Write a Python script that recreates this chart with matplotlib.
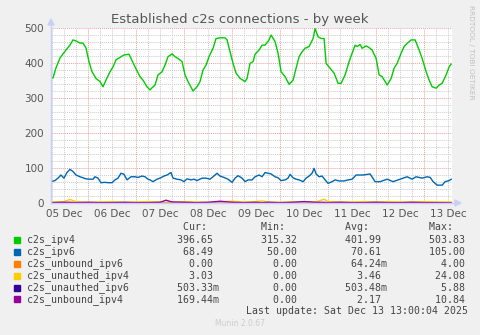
import matplotlib
matplotlib.use("Agg")
import matplotlib.pyplot as plt
from matplotlib.patches import Rectangle, Polygon

# hours since 05 Dec 00:00
ipv4_t = [5.5, 6.5, 8, 10, 11.5, 13, 15, 16.5, 18, 20, 21.5, 23, 24.5, 26, 28, 30, 31.5, 33, 35, 36.5,
          38, 40, 42, 44.5, 45.5, 47.5, 50, 51.5, 53.5, 55, 56, 57.5, 59, 61, 62.5, 64, 66, 67.5, 69, 71,
          72.5, 74, 76.5, 78.5, 80, 81.5, 83, 84.5, 86.5, 88, 90, 92.5, 93.5, 95, 96.5, 98, 100, 102.5, 103.5, 105,
          106.5, 107.5, 109.5, 111, 112.5, 114.5, 115.5, 117.5, 119, 120.5, 122.5, 124.5, 126.5, 128, 129.5, 131, 132.5, 134.5, 136.5, 137.5,
          139, 140.5, 142, 143, 145, 147, 149, 150.5, 152.5, 154.5, 156, 157.5, 158.5, 160, 161, 163, 164.5, 166, 168, 169.5,
          171, 172.5, 173.5, 175.5, 177, 178.5, 180.5, 182, 183.5, 185.5, 187.5, 189.5, 191, 193, 194.5, 196, 198, 199.5,
          201, 203, 204.5, 205.5]
ipv4_v = [357, 357, 386, 414, 426, 437, 451, 466, 463, 457, 457, 443, 404, 375, 356, 347, 332, 351, 375, 389,
          409, 416, 423, 425, 413, 389, 361, 351, 332, 323, 329, 337, 366, 375, 394, 418, 426, 418, 413, 404,
          366, 347, 320, 332, 347, 380, 394, 418, 442, 470, 472, 472, 466, 432, 399, 371, 356, 347, 356, 399,
          404, 425, 437, 451, 451, 466, 480, 461, 428, 375, 361, 339, 351, 385, 418, 432, 442, 447, 470, 498,
          475, 470, 470, 399, 385, 371, 342, 342, 366, 404, 428, 451, 447, 453, 442, 449, 444, 437, 413, 366,
          361, 347, 337, 356, 385, 399, 428, 447, 456, 466, 466, 437, 413, 375, 351, 332, 328, 337,
          342, 366, 389, 397]

ipv6_t = [5.5, 7.5, 9, 10.5, 12, 13.5, 15, 16.5, 18, 20, 21.5, 23, 25, 26.5, 27.5, 29, 30.5, 32.5, 34, 36,
          37.5, 39, 40.5, 42, 43.5, 45.5, 47.5, 49, 51, 52.5, 54, 55, 56.5, 58.5, 60, 62, 63.5, 65.5, 66.5, 68.5,
          70.5, 72, 73.5, 75.5, 77, 78.5, 81, 83, 85, 86.5, 88.5, 90, 92, 94, 96, 97.5, 99, 101, 102.5, 104,
          106, 107.5, 109.5, 111, 112.5, 114, 115.5, 117.5, 119, 120.5, 122.5, 124, 125, 126.5, 128, 129.5, 131.5, 133, 134.5, 136,
          137, 138, 139.5, 141, 142.5, 144, 146, 147.5, 149.5, 152, 154, 156, 158, 161.5, 165, 167.5, 170, 173.5,
          176.5, 180, 183.5, 186, 188, 191, 193.5, 195, 196.5, 198.5, 201, 202.5, 204.5, 205.5]
ipv6_v = [61, 64, 71, 80, 71, 87, 96, 90, 80, 75, 72, 69, 68, 68, 75, 71, 58, 59, 58, 58,
          66, 71, 85, 82, 66, 75, 75, 73, 77, 75, 68, 66, 61, 68, 71, 77, 80, 87, 71, 68,
          66, 61, 69, 66, 68, 64, 71, 71, 68, 75, 85, 77, 73, 68, 59, 71, 78, 71, 61, 66,
          66, 75, 80, 75, 87, 85, 83, 75, 72, 64, 66, 71, 82, 72, 68, 66, 61, 71, 77, 85,
          99, 83, 75, 77, 66, 56, 61, 66, 63, 63, 66, 68, 80, 80, 83, 61, 61, 68,
          61, 68, 75, 68, 75, 71, 75, 73, 61, 51, 51, 61, 64, 68]

small_t = [5.5, 12, 15, 18, 24, 30, 36, 42, 48, 54, 60, 63, 66, 72, 78, 84, 90, 96, 102, 108,
           111, 114, 120, 126, 132, 138, 142, 144, 150, 156, 162, 168, 174, 180, 186, 192, 198, 205.5]
unauthed_ipv4 = [3, 4, 10, 4, 2, 3, 4, 2, 3, 4, 3, 2, 3, 4, 3, 2, 4, 5, 3, 4,
                 6, 3, 2, 3, 4, 3, 11, 4, 3, 3, 4, 3, 4, 3, 3, 4, 3, 3]
unbound_ipv4 = [1, 2, 2, 1, 2, 1, 1, 2, 1, 1, 2, 8, 3, 2, 1, 2, 5, 2, 1, 2,
                1, 2, 1, 2, 4, 2, 2, 1, 2, 1, 1, 2, 1, 1, 2, 1, 1, 0.2]
unauthed_ipv6 = [0.5] * len(small_t)
unbound_ipv6 = [0] * len(small_t)

names = ["c2s_ipv4", "c2s_ipv6", "c2s_unbound_ipv6", "c2s_unauthed_ipv4", "c2s_unauthed_ipv6", "c2s_unbound_ipv4"]
colors = ["#00cc00", "#0066b3", "#ff8000", "#ffcc00", "#330099", "#990099"]
cur = [396.65, 68.49, 0.0, 3.03, 0.50333, 0.16944]
mins = [315.32, 50.00, 0.0, 0.0, 0.0, 0.0]
avgs = [401.99, 70.61, 0.06424, 3.46, 0.50348, 2.17]
maxs = [503.83, 105.00, 4.00, 24.08, 5.88, 10.84]
day_labels = ["05 Dec", "06 Dec", "07 Dec", "08 Dec", "09 Dec", "10 Dec", "11 Dec", "12 Dec", "13 Dec"]

W, H = 481, 335
def fx(px):
    return px / W
def fy(py):
    return 1 - py / H

fig = plt.figure(figsize=(4.81, 3.35), dpi=100, facecolor="#f0f0f0")
ax = fig.add_axes([fx(51), fy(203), fx(452) - fx(51), fy(28) - fy(203)])
ax.set_facecolor("white")

series = [(ipv4_t, ipv4_v), (ipv6_t, ipv6_v), (small_t, unbound_ipv6), (small_t, unauthed_ipv4),
          (small_t, unauthed_ipv6), (small_t, unbound_ipv4)]
for (t, v), c in zip(series, colors):
    ax.plot([h / 24 for h in t], v, color=c, lw=1.0, zorder=3)

ax.set_xlim(0.23, 8.58)
ax.set_ylim(0, 500)

# grid
for k in range(1, 35):
    d = k * 0.25
    if 0.23 < d < 8.58:
        if k % 4 == 0:
            ax.axvline(d, color="#f0a0a0", lw=0.7, ls=(0, (1, 1)), zorder=1)
        else:
            ax.axvline(d, color="#cccccc", lw=0.7, ls=(0, (1, 1)), zorder=1)
for y in range(20, 501, 20):
    if y % 100 == 0:
        ax.axhline(y, color="#f0a0a0", lw=0.7, ls=(0, (1, 1)), zorder=1)
    else:
        ax.axhline(y, color="#cccccc", lw=0.7, ls=(0, (1, 1)), zorder=1)

ax.set_xticks([i + 0.5 for i in range(len(day_labels))])
ax.set_xticklabels(day_labels)
ax.set_yticks(range(0, 501, 100))
ax.tick_params(length=0, labelsize=7.5, colors="#555555")
ax.tick_params(axis="x", pad=4)
ax.tick_params(axis="y", pad=5)
for s in ["top", "right"]:
    ax.spines[s].set_visible(False)
for s in ["left", "bottom"]:
    ax.spines[s].set_color("#c8d0f8")
    ax.spines[s].set_zorder(4)

# axis arrows
axc = "#c8d0f8"
fig.add_artist(plt.Line2D([fx(51), fx(51)], [fy(203), fy(22)], color=axc, lw=1))
fig.add_artist(plt.Line2D([fx(51), fx(458)], [fy(203), fy(203)], color=axc, lw=1))
fig.add_artist(Polygon([[fx(48), fy(25)], [fx(54), fy(25)], [fx(51), fy(19)]], closed=True, color=axc))
fig.add_artist(Polygon([[fx(455), fy(200)], [fx(455), fy(206)], [fx(461), fy(203)]], closed=True, color=axc))

fig.text(fx(240), fy(19), "Established c2s connections - by week", ha="center", va="center",
         fontsize=9.5, color="#555555")
fig.text(fx(471), fy(52), "RRDTOOL / TOBI OETIKER", rotation=-90, ha="center", va="center",
         fontsize=5.3, color="#c0c0c0")

# legend
def fmt(v):
    if v != 0 and abs(v) < 1:
        return "%6.2fm" % (v * 1000)
    return "%6.2f " % v

mono = dict(family="DejaVu Sans Mono", fontsize=7.08, color="#444444", va="center", ha="left")
x0 = 26.7
fig.text(fx(x0), fy(227.3), " " * 26 + "Cur:" + " " * 9 + "Min:" + " " * 10 + "Avg:" + " " * 10 + "Max:", **mono)
for i, n in enumerate(names):
    yy = 239.7 + 11.95 * i
    fig.add_artist(Rectangle((fx(13.5), fy(yy + 3)), fx(6.5), fy(yy - 3) - fy(yy + 3), color=colors[i]))
    row = n.ljust(25) + (" " * 7).join([fmt(cur[i]), fmt(mins[i]), fmt(avgs[i]), fmt(maxs[i])])
    fig.text(fx(x0), fy(yy), row, **mono)
fig.text(fx(x0 + 37 * 5.92), fy(310.7), "Last update: Sat Dec 13 13:00:04 2025", **mono)
fig.text(fx(240), fy(324), "Munin 2.0.67", ha="center", va="center", fontsize=5.5, color="#cccccc")

fig.savefig("out.png", dpi=100, facecolor=fig.get_facecolor())
